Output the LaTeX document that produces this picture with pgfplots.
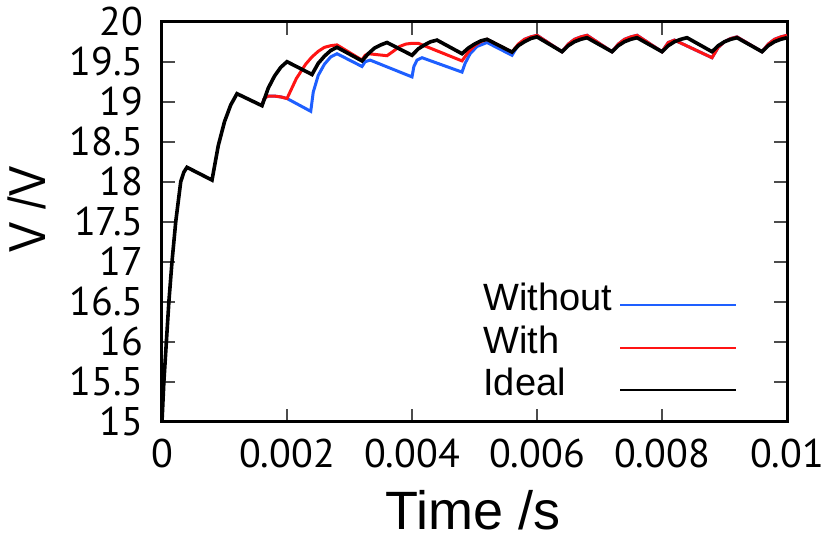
\documentclass[border=0pt]{standalone}
\usepackage{graphicx}
\usepackage{pgfplots}
\pgfplotsset{compat=1.18}
\usepackage{fontspec}
\setmainfont{Liberation Sans}
\newfontfamily\tickfont{PT Sans}
\definecolor{myblue}{RGB}{30,95,255}
\definecolor{myred}{RGB}{255,20,20}
\begin{document}
\begin{tikzpicture}
\begin{axis}[
  width=312.5pt, height=200pt, scale only axis,
  xmin=0, xmax=0.01, ymin=15, ymax=20,
  scaled x ticks=false, scaled y ticks=false,
  xtick={0,0.002,0.004,0.006,0.008,0.01},
  xticklabels={0,0.002,0.004,0.006,0.008,0.01},
  ytick={15,15.5,16,16.5,17,17.5,18,18.5,19,19.5,20},
  yticklabels={15,15.5,16,16.5,17,17.5,18,18.5,19,19.5,20},
  tick align=inside, major tick length=6.5pt,
  tick style={black!70, line width=1pt},
  axis line style={line width=1.5pt},
  xticklabel style={font=\tickfont\fontsize{20}{20}\selectfont, anchor=base, inner sep=0pt, yshift=-22.8pt},
  yticklabel style={font=\tickfont\fontsize{20}{20}\selectfont, anchor=east, inner sep=0pt, xshift=-9pt},
  xlabel={Time /s},
  ylabel={\scalebox{0.87}[1]{V /V}},
  every axis x label/.style={at={(rel axis cs:0.497,0)}, anchor=base, yshift=-54pt, font=\fontsize{27}{27}\selectfont},
  every axis y label/.style={at={(rel axis cs:0,0.5305)}, xshift=-58.25pt, rotate=90, anchor=base, font=\fontsize{26}{26}\selectfont},
  legend plot pos=right,
  legend cell align=left,
  legend image code/.code={\draw[#1, line width=1pt] (0pt,-1.75pt) -- (58pt,-1.75pt);},
  legend style={draw=none, fill=none, font=\fontsize{19}{19}\selectfont,
    at={(rel axis cs:0.5136,0.194)}, anchor=west, inner sep=0pt,
    nodes={inner sep=0pt, text height=13pt, text depth=4pt},
    row sep=4.25pt, column sep=3.5pt},
]
\coordinate (O) at (rel axis cs:0,0);
% Without (blue)
\addplot[myblue, line width=1.5pt] coordinates {
(0.0016,18.95) (0.00163,19.03) (0.00167,19.06) (0.0017,19.07) (0.0018,19.07) (0.0019,19.06) (0.002,19.04)
(0.00238,18.88) (0.00242,19.12) (0.0025,19.33) (0.0026,19.47) (0.0027,19.56) (0.0028,19.60)
(0.0032,19.44) (0.00325,19.50) (0.00333,19.52)
(0.004,19.31) (0.00403,19.44) (0.00408,19.52) (0.00416,19.55)
(0.0048,19.37) (0.00485,19.48) (0.00493,19.60) (0.00504,19.69) (0.0052,19.74)
(0.0056,19.58) (0.0057,19.71) (0.0058,19.78) (0.0059,19.81) (0.006,19.83)
(0.0064,19.625) (0.0065,19.72) (0.0066,19.78) (0.0067,19.81) (0.0068,19.83)
(0.0072,19.625) (0.0073,19.72) (0.0074,19.78) (0.0075,19.81) (0.0076,19.83)
(0.008,19.625) (0.0081,19.74) (0.0082,19.77)
(0.0088,19.55) (0.0089,19.68) (0.009,19.75) (0.0091,19.79) (0.0092,19.81)
(0.0096,19.625) (0.0097,19.72) (0.0098,19.78) (0.0099,19.81) (0.01,19.83)
};
\addlegendentry{Without}
% With (red)
\addplot[myred, line width=1.5pt] coordinates {
(0.0016,18.95) (0.00163,19.03) (0.00167,19.06) (0.0017,19.07) (0.0018,19.07) (0.0019,19.06) (0.002,19.04)
(0.00215,19.29) (0.0023,19.47) (0.0024,19.56) (0.0025,19.63) (0.0026,19.68) (0.0027,19.70) (0.0028,19.71)
(0.0032,19.52) (0.00325,19.58) (0.0033,19.60)
(0.0036,19.575) (0.0037,19.63) (0.0038,19.69) (0.0039,19.72) (0.004,19.73) (0.0041,19.73)
(0.0048,19.51) (0.0049,19.62) (0.005,19.70) (0.0051,19.75) (0.0052,19.78)
(0.0056,19.62) (0.0057,19.72) (0.0058,19.78) (0.0059,19.81) (0.006,19.83)
(0.0064,19.625) (0.0065,19.72) (0.0066,19.78) (0.0067,19.81) (0.0068,19.83)
(0.0072,19.625) (0.0073,19.72) (0.0074,19.78) (0.0075,19.81) (0.0076,19.83)
(0.008,19.625) (0.0081,19.74) (0.0082,19.77)
(0.0088,19.55) (0.0089,19.68) (0.009,19.75) (0.0091,19.79) (0.0092,19.81)
(0.0096,19.625) (0.0097,19.72) (0.0098,19.78) (0.0099,19.81) (0.01,19.83)
};
\addlegendentry{With}
% Ideal (black)
\addplot[black, line width=1.8pt] coordinates {
(0,15) (0.00003,15.5) (0.00007,16.0) (0.00011,16.5) (0.00016,17.0) (0.00022,17.5) (0.0003,18.0) (0.00035,18.12) (0.0004,18.18)
(0.0008,18.02) (0.0009,18.45) (0.001,18.75) (0.0011,18.96) (0.0012,19.10)
(0.0016,18.95) (0.0017,19.17) (0.0018,19.32) (0.0019,19.43) (0.002,19.50)
(0.0024,19.34) (0.0025,19.48) (0.0026,19.57) (0.0027,19.64) (0.0028,19.68)
(0.0032,19.51) (0.0033,19.60) (0.0034,19.67) (0.0035,19.71) (0.0036,19.74)
(0.004,19.58) (0.0041,19.66) (0.0042,19.71) (0.0043,19.75) (0.0044,19.77)
(0.0048,19.60) (0.0049,19.67) (0.005,19.72) (0.0051,19.76) (0.0052,19.78)
(0.0056,19.62) (0.0057,19.70) (0.0058,19.75) (0.0059,19.79) (0.006,19.81)
(0.0064,19.625) (0.0065,19.70) (0.0066,19.75) (0.0067,19.78) (0.0068,19.80)
(0.0072,19.625) (0.0073,19.70) (0.0074,19.75) (0.0075,19.78) (0.0076,19.80)
(0.008,19.625) (0.0081,19.70) (0.0082,19.75) (0.0083,19.78) (0.0084,19.80)
(0.0088,19.625) (0.0089,19.70) (0.009,19.75) (0.0091,19.78) (0.0092,19.80)
(0.0096,19.625) (0.0097,19.70) (0.0098,19.75) (0.0099,19.78) (0.01,19.80)
};
\addlegendentry{Ideal}
\end{axis}
\pgfresetboundingbox
\path[use as bounding box] ([xshift=-81pt,yshift=-67.65pt]O) rectangle ([xshift=334pt,yshift=210.85pt]O);
\end{tikzpicture}
\end{document}
